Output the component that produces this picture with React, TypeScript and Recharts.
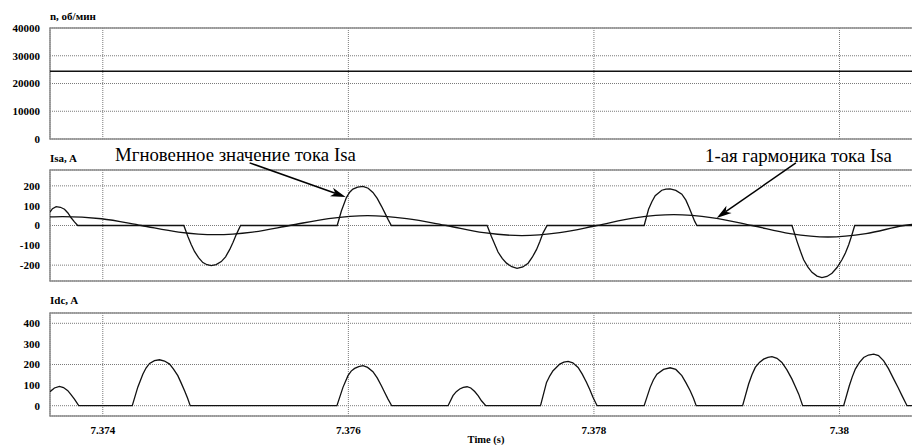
import React from 'react';
import {
  LineChart,
  Line,
  XAxis,
  YAxis,
  CartesianGrid,
  ReferenceLine,
  ReferenceArea,
  Label,
} from 'recharts';

// Time axis, s
const T_MIN = 7.37357;
const T_MAX = 7.380672;
const timeTicks = [7.374, 7.376, 7.378, 7.38];

// Rotor speed, rpm
const speedTime = [T_MIN, T_MAX];
const speedRpm = [24400, 24400];
const speedTicks = [0, 10000, 20000, 30000, 40000];

// Phase current Isa (instantaneous), A
const isaTime = [
  7.37357, 7.37359, 7.37362, 7.373655, 7.373688, 7.373716, 7.373742, 7.373769, 7.373796,
  7.37466, 7.374693, 7.374719, 7.374747, 7.37478, 7.374815, 7.374849, 7.374883, 7.374923,
  7.374965, 7.375, 7.375033, 7.375061, 7.375087, 7.375122,
  7.375909, 7.375943, 7.375984, 7.376011, 7.376037, 7.376076, 7.376119, 7.376161, 7.3762,
  7.376235, 7.376269, 7.376296, 7.376323, 7.37635,
  7.37713, 7.377165, 7.377219, 7.377253, 7.377288, 7.377331, 7.377374, 7.377421, 7.377464,
  7.377498, 7.377532, 7.377559, 7.377586, 7.377619,
  7.378409, 7.378445, 7.378472, 7.378499, 7.378553, 7.378586, 7.378621, 7.378667, 7.378716,
  7.378749, 7.378776, 7.378798, 7.37882, 7.378839,
  7.379613, 7.379654, 7.379682, 7.379708, 7.379743, 7.379776, 7.379817, 7.379857, 7.379898,
  7.379939, 7.37998, 7.38002, 7.380049, 7.380075, 7.380099, 7.380124,
  7.380672,
];
const isaAmp = [
  68, 85, 95, 92, 82, 63, 39, 18, 0,
  0, -55, -95, -131, -162, -187, -198, -202, -197,
  -182, -158, -122, -85, -46, 0,
  0, 73, 141, 168, 184, 194, 197, 188, 167,
  137, 98, 65, 31, 0,
  0, -55, -134, -166, -190, -208, -216, -209, -190,
  -160, -122, -82, -37, 0,
  0, 82, 120, 150, 178, 184, 185, 177, 158,
  128, 90, 55, 22, 0,
  0, -80, -130, -173, -210, -236, -255, -263, -257,
  -241, -212, -173, -138, -97, -52, 0,
  0,
];

// First harmonic of Isa, A
const isa1Time = [
  7.37357, 7.373672, 7.373989, 7.374313, 7.374617, 7.374918, 7.37522, 7.375522,
  7.375839, 7.376157, 7.376475, 7.376799, 7.377103, 7.377412, 7.377722, 7.378024,
  7.378333, 7.378651, 7.378969, 7.379287, 7.379597, 7.379906, 7.380216, 7.380526,
  7.380672,
];
const isa1Amp = [
  43, 45, 34, 0, -33, -46, -33, 0,
  35, 50, 35, 0, -36, -51, -36, 0,
  39, 55, 39, 0, -41, -58, -41, 0,
  12,
];
const isaTicks = [-200, -100, 0, 100, 200];

// DC-link current Idc, A
const idcTime = [
  7.37357, 7.373606, 7.373647, 7.37368, 7.373715, 7.373741, 7.373769, 7.373804,
  7.37424, 7.374285, 7.374326, 7.374352, 7.374381, 7.374421, 7.374462, 7.374503, 7.374544,
  7.374576, 7.374611, 7.374637, 7.374666, 7.37469, 7.374712,
  7.375907, 7.375956, 7.375997, 7.376023, 7.376051, 7.376084, 7.376119, 7.376157, 7.3762,
  7.376235, 7.376269, 7.376296, 7.376323, 7.376353,
  7.376812, 7.376852, 7.376879, 7.376907, 7.376936, 7.376967, 7.376997, 7.377029, 7.377058,
  7.377084, 7.377119,
  7.377565, 7.377614, 7.377641, 7.377667, 7.377722, 7.377755, 7.37779, 7.377828, 7.377871,
  7.377905, 7.37794, 7.377967, 7.377993, 7.378026,
  7.378409, 7.378458, 7.378484, 7.378513, 7.378567, 7.378621, 7.378667, 7.378716, 7.378749,
  7.378784, 7.37881, 7.378833,
  7.379211, 7.37926, 7.379287, 7.379314, 7.379348, 7.379382, 7.379417, 7.37945, 7.379491,
  7.379531, 7.379572, 7.379613, 7.379641, 7.379668, 7.3797,
  7.380034, 7.38008, 7.380104, 7.380129, 7.380163, 7.380197, 7.380236, 7.380279, 7.380318,
  7.38036, 7.380399, 7.380442, 7.380477, 7.380509, 7.38055,
  7.380672,
];
const idcAmp = [
  68, 86, 94, 88, 73, 54, 32, 0,
  0, 90, 153, 183, 205, 219, 223, 217, 202,
  178, 146, 112, 73, 37, 0,
  0, 89, 146, 168, 181, 190, 194, 186, 165,
  135, 97, 64, 32, 0,
  0, 49, 68, 81, 89, 92, 86, 69, 48,
  24, 0,
  0, 113, 145, 170, 202, 211, 215, 208, 186,
  153, 113, 77, 40, 0,
  0, 89, 125, 153, 176, 184, 176, 146, 112,
  73, 37, 0,
  0, 105, 150, 186, 210, 226, 235, 238, 230,
  210, 174, 129, 92, 56, 0,
  0, 97, 140, 178, 210, 234, 246, 250, 243,
  218, 180, 129, 88, 49, 0,
  0,
];
const idcTicks = [0, 100, 200, 300, 400];

const zip = (ts: number[], vs: number[]) => ts.map((t, i) => ({ t, v: vs[i] }));

const speedData = zip(speedTime, speedRpm);
const isaData = zip(isaTime, isaAmp);
const isa1Data = zip(isa1Time, isa1Amp);
const idcData = zip(idcTime, idcAmp);

const SERIF = 'Liberation Serif, Times New Roman, Times, DejaVu Serif, serif';
const tickStyle = {
  style: { fontFamily: SERIF, fontWeight: 700, fontSize: 11 },
  fill: '#000',
};
const GRID = '#7a7a7a';
const FRAME = '#8c8c8c';
const INK = '#111';
const CHART_W = 922;

// Arrow with a notched head, drawn between the two segment points
const Arrow = (props: any) => {
  const { x1, y1, x2, y2 } = props;
  const dx = x2 - x1;
  const dy = y2 - y1;
  const len = Math.hypot(dx, dy) || 1;
  const ux = dx / len;
  const uy = dy / len;
  const head = 15;
  const half = 4.5;
  const notch = 11;
  const bx = x2 - ux * head;
  const by = y2 - uy * head;
  const nx = x2 - ux * notch;
  const ny = y2 - uy * notch;
  const px = -uy * half;
  const py = ux * half;
  return (
    <g>
      <line x1={x1} y1={y1} x2={nx} y2={ny} stroke="#000" strokeWidth={1.5} />
      <polygon
        points={`${x2},${y2} ${bx + px},${by + py} ${nx},${ny} ${bx - px},${by - py}`}
        fill="#000"
      />
    </g>
  );
};

const Frame = ({ yMin, yMax }: { yMin: number; yMax: number }) => (
  <ReferenceArea
    x1={T_MIN}
    x2={T_MAX}
    y1={yMin}
    y2={yMax}
    fill="none"
    stroke={FRAME}
    strokeWidth={1.5}
    fillOpacity={0}
    ifOverflow="visible"
  />
);

const xAxisCommon = {
  dataKey: 't',
  type: 'number' as const,
  domain: [T_MIN, T_MAX],
  ticks: timeTicks,
  allowDataOverflow: true,
};

const titleStyle = { fontFamily: SERIF, fontWeight: 700, fontSize: 11 };
const noteStyle = { fontFamily: SERIF, fontWeight: 400, fontSize: 18.8 };

export default function App() {
  return (
    <div
      style={{
        position: 'absolute',
        left: 0,
        top: 0,
        width: 912,
        height: 445,
        overflow: 'hidden',
        background: '#fff',
      }}
    >
      {/* Speed */}
      <div style={{ position: 'absolute', left: 0, top: 0 }}>
        <LineChart width={CHART_W} height={146} margin={{ top: 28, right: 0, bottom: 7, left: 0 }}>
          <CartesianGrid stroke={GRID} strokeDasharray="1 1" />
          <XAxis {...xAxisCommon} hide />
          <YAxis
            type="number"
            domain={[0, 40000]}
            ticks={speedTicks}
            width={50}
            axisLine={false}
            tickLine={false}
            tickSize={6}
            tickMargin={4}
            tick={tickStyle}
          />
          <Frame yMin={0} yMax={40000} />
          <Line
            data={speedData}
            dataKey="v"
            type="linear"
            stroke={INK}
            strokeWidth={1.6}
            dot={false}
            isAnimationActive={false}
          />
        </LineChart>
      </div>

      {/* Phase current */}
      <div style={{ position: 'absolute', left: 0, top: 140 }}>
        <LineChart width={CHART_W} height={150} margin={{ top: 30, right: 0, bottom: 9, left: 0 }}>
          <CartesianGrid stroke={GRID} strokeDasharray="1 1" />
          <XAxis {...xAxisCommon} hide />
          <YAxis
            type="number"
            domain={[-280, 280]}
            ticks={isaTicks}
            width={50}
            axisLine={false}
            tickLine={false}
            tickSize={6}
            tickMargin={4}
            tick={tickStyle}
          />
          <Frame yMin={-280} yMax={280} />
          <Line
            data={isa1Data}
            dataKey="v"
            type="monotone"
            stroke={INK}
            strokeWidth={1.3}
            dot={false}
            isAnimationActive={false}
          />
          <Line
            data={isaData}
            dataKey="v"
            type="linear"
            stroke={INK}
            strokeWidth={1.3}
            dot={false}
            isAnimationActive={false}
          />
          <ReferenceLine
            segment={[
              { x: 7.375196, y: 316 },
              { x: 7.375978, y: 144 },
            ]}
            ifOverflow="visible"
            shape={Arrow}
          />
          <ReferenceLine
            segment={[
              { x: 7.379645, y: 316 },
              { x: 7.379, y: 38 },
            ]}
            ifOverflow="visible"
            shape={Arrow}
          />
        </LineChart>
      </div>

      {/* DC-link current */}
      <div style={{ position: 'absolute', left: 0, top: 290 }}>
        <LineChart width={CHART_W} height={156} margin={{ top: 23, right: 0, bottom: 0, left: 0 }}>
          <CartesianGrid stroke={GRID} strokeDasharray="1 1" />
          <XAxis
            {...xAxisCommon}
            height={30}
            axisLine={false}
            tickLine={false}
            tickSize={6}
            tickMargin={4}
            tick={tickStyle}
          >
            <Label
              value="Time (s)"
              position="insideBottom"
              offset={3}
              fill="#000"
              style={{ fontFamily: SERIF, fontWeight: 700, fontSize: 10.5 }}
            />
          </XAxis>
          <YAxis
            type="number"
            domain={[-50, 450]}
            ticks={idcTicks}
            width={50}
            axisLine={false}
            tickLine={false}
            tickSize={6}
            tickMargin={4}
            tick={tickStyle}
          />
          <Frame yMin={-50} yMax={450} />
          <Line
            data={idcData}
            dataKey="v"
            type="linear"
            stroke={INK}
            strokeWidth={1.3}
            dot={false}
            isAnimationActive={false}
          />
        </LineChart>
      </div>

      {/* Panel titles and annotations */}
      <svg
        width={912}
        height={445}
        style={{ position: 'absolute', left: 0, top: 0, pointerEvents: 'none' }}
      >
        <g fill="#000" style={titleStyle}>
          <text x={50} y={19.5}>n, об/мин</text>
          <text x={50} y={161.5}>Isa, A</text>
          <text x={50} y={304}>Idc, A</text>
        </g>
        <g fill="#000" style={noteStyle}>
          <text x={115} y={160.5}>Мгновенное значение тока Isa</text>
          <text x={705} y={162}>1-ая гармоника тока Isa</text>
        </g>
      </svg>
    </div>
  );
}
